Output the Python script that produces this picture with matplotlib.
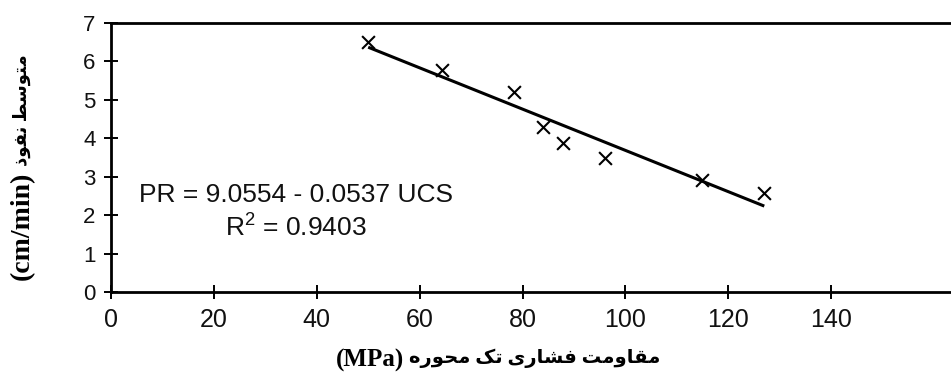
import matplotlib
matplotlib.use("Agg")
import matplotlib.pyplot as plt

# Uniaxial compressive strength (MPa) vs. mean penetration rate (cm/min)
ucs = [50.0, 64.3, 78.4, 83.9, 87.8, 96.1, 114.9, 127.0]
penetration = [6.50, 5.78, 5.21, 4.30, 3.87, 3.48, 2.91, 2.58]

# Linear regression reported on the chart
intercept = 9.0554
slope = -0.0537
r_squared = 0.9403

x_ticks = [0, 20, 40, 60, 80, 100, 120, 140]
y_ticks = [0, 1, 2, 3, 4, 5, 6, 7]

x_title_fa = "مقاومت فشاری تک محوره"
x_title_unit = "(MPa)"
y_title_fa = "متوسط نفوذ"
y_title_unit = "(cm/min)"

# Contextual forms: isolated, final, initial, medial (None = no left join)
FORMS = {
    "ا": ("\uFE8D", "\uFE8E", None, None),
    "ت": ("\uFE95", "\uFE96", "\uFE97", "\uFE98"),
    "ح": ("\uFEA1", "\uFEA2", "\uFEA3", "\uFEA4"),
    "ذ": ("\uFEAB", "\uFEAC", None, None),
    "ر": ("\uFEAD", "\uFEAE", None, None),
    "س": ("\uFEB1", "\uFEB2", "\uFEB3", "\uFEB4"),
    "ش": ("\uFEB5", "\uFEB6", "\uFEB7", "\uFEB8"),
    "ط": ("\uFEC1", "\uFEC2", "\uFEC3", "\uFEC4"),
    "ف": ("\uFED1", "\uFED2", "\uFED3", "\uFED4"),
    "ق": ("\uFED5", "\uFED6", "\uFED7", "\uFED8"),
    "م": ("\uFEE1", "\uFEE2", "\uFEE3", "\uFEE4"),
    "ن": ("\uFEE5", "\uFEE6", "\uFEE7", "\uFEE8"),
    "ه": ("\uFEE9", "\uFEEA", "\uFEEB", "\uFEEC"),
    "و": ("\uFEED", "\uFEEE", None, None),
    "ی": ("\uFBFC", "\uFBFD", "\uFBFE", "\uFBFF"),
    "ک": ("\uFB8E", "\uFB8F", "\uFB90", "\uFB91"),
}


def rtl(text):
    """Join Persian letters into their contextual forms, in display order."""
    out = []
    for i, ch in enumerate(text):
        f = FORMS.get(ch)
        if f is None:
            out.append(ch)
            continue
        prev = text[i - 1] if i > 0 else None
        nxt = text[i + 1] if i + 1 < len(text) else None
        join_prev = prev in FORMS and FORMS[prev][2] is not None
        join_next = nxt in FORMS and f[2] is not None
        if join_prev and join_next:
            out.append(f[3])
        elif join_prev:
            out.append(f[1])
        elif join_next:
            out.append(f[2])
        else:
            out.append(f[0])
    return "".join(reversed(out))


plt.rcParams["font.family"] = ["Liberation Sans", "DejaVu Sans"]
plt.rcParams["mathtext.fontset"] = "custom"
plt.rcParams["mathtext.rm"] = "Liberation Sans"
plt.rcParams["mathtext.it"] = "Liberation Sans"

W, H = 951, 379
fig = plt.figure(figsize=(W / 100, H / 100), dpi=100)
ax = fig.add_axes([111 / W, 1 - 292 / H, 840 / W, 269 / H])

ax.scatter(ucs, penetration, marker="x", s=85, color="black", linewidths=1.5, zorder=3)

x_fit = [min(ucs), max(ucs)]
y_fit = [intercept + slope * x for x in x_fit]
ax.plot(x_fit, y_fit, color="black", linewidth=2.2, solid_capstyle="butt", zorder=2)

ax.text(36.0, 2.34, f"PR = {intercept:.4f} - {abs(slope):.4f} UCS",
        ha="center", va="baseline", fontsize=19, color="#111111")
ax.text(36.0, 1.44, f"R$^2$ = {r_squared:.4f}",
        ha="center", va="baseline", fontsize=19, color="#111111")

ax.set_xlim(0, 163.3)
ax.set_ylim(0, 7)
ax.set_xticks(x_ticks)
ax.set_yticks(y_ticks)

for side in ("left", "bottom", "top"):
    ax.spines[side].set_linewidth(2.0)
    ax.spines[side].set_color("black")
ax.spines["right"].set_visible(False)

ax.tick_params(axis="both", direction="inout", length=10.5, width=1.4, color="black")
ax.tick_params(axis="x", labelsize=18, pad=6)
ax.tick_params(axis="y", labelsize=16, pad=6)
for lbl in ax.get_xticklabels() + ax.get_yticklabels():
    lbl.set_color("#111111")

serif = ["Liberation Serif", "DejaVu Sans"]

# x-axis title: unit on the left, Persian words to its right
fig.text(404 / W, 1 - 360 / H, x_title_unit, ha="right", va="center",
         fontsize=18, fontweight="bold", family=serif)
fig.text(409 / W, 1 - 358 / H, rtl(x_title_fa), ha="left", va="center",
         fontsize=14, fontweight="bold", family=serif)

# y-axis title, reading upward: unit first, then Persian words
fig.text(22 / W, 1 - 226 / H, y_title_unit, ha="center", va="center", rotation=90,
         fontsize=20, fontweight="bold", family=serif)
fig.text(22 / W, 1 - 110 / H, rtl(y_title_fa), ha="center", va="center", rotation=90,
         fontsize=13, fontweight="bold", family=serif)

fig.savefig("out.png", dpi=100, facecolor="white")
